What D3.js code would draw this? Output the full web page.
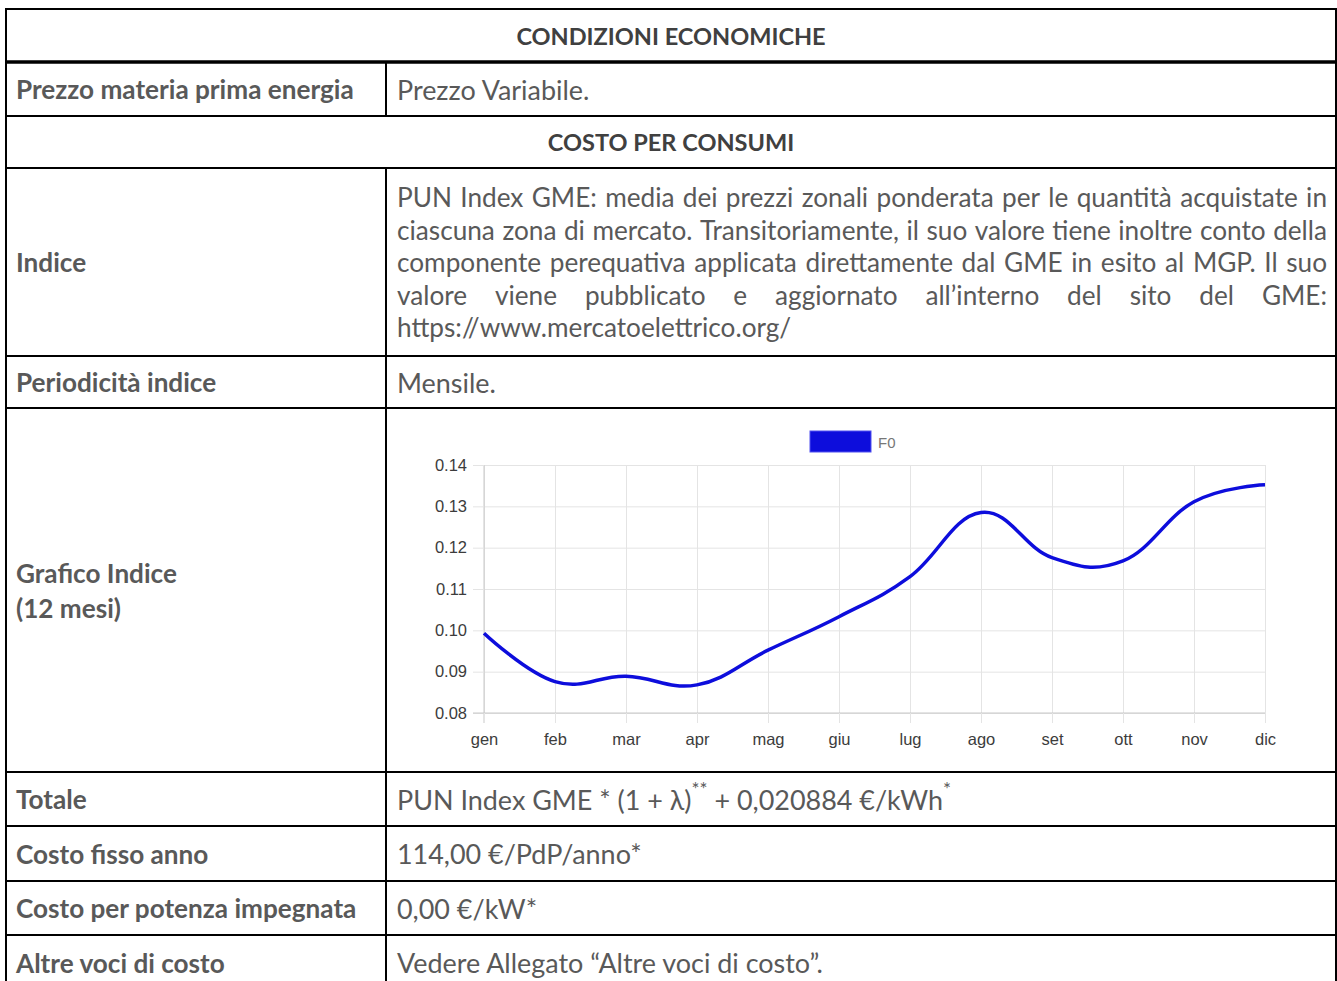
<!DOCTYPE html>
<html lang="it">
<head>
<meta charset="utf-8">
<title>Condizioni economiche</title>
<script src="https://d3js.org/d3.v7.min.js"></script>
<style>
body { margin: 0; background: #fff; }
svg { display: block; }
</style>
</head>
<body>
<div id="plot"></div>
<script>
var width = 1337, height = 981;

// --- data ---
var months = ["gen", "feb", "mar", "apr", "mag", "giu", "lug", "ago", "set", "ott", "nov", "dic"];
var f0 = [0.0993, 0.0876, 0.0889, 0.0868, 0.0952, 0.1033, 0.1130, 0.1285, 0.1176, 0.1168, 0.1311, 0.1352];
var yTicks = [0.08, 0.09, 0.10, 0.11, 0.12, 0.13, 0.14];
var seriesName = "F0";

var titleMain = "CONDIZIONI ECONOMICHE";
var titleSub = "COSTO PER CONSUMI";
var labels = ["Prezzo materia prima energia", "Indice", "Periodicità indice", "Grafico Indice|(12 mesi)",
              "Totale", "Costo fisso anno", "Costo per potenza impegnata", "Altre voci di costo"];
var values = ["Prezzo Variabile.", null, "Mensile.", null, null,
              "114,00 €/PdP/anno*", "0,00 €/kW*", "Vedere Allegato “Altre voci di costo”."];
var indiceText = [
  "PUN Index GME: media dei prezzi zonali ponderata per le quantità acquistate in",
  "ciascuna zona di mercato. Transitoriamente, il suo valore tiene inoltre conto della",
  "componente perequativa applicata direttamente dal GME in esito al MGP. Il suo",
  "valore viene pubblicato e aggiornato all’interno del sito del GME:",
  "https://www.mercatoelettrico.org/"
];
var totaleParts = [["PUN Index GME * (1 + λ)", false], ["**", true], [" + 0,020884 €/kWh", false], ["*", true]];

// --- layout ---
var FONT = "Lato, 'Open Sans', sans-serif";
var TXT = "#595959";
var xL = 6, xR = 1336, xDiv = 386;
// row edges: title, prezzo, subtitle, indice, periodicità, grafico, totale, fisso, potenza, altre
var edges = [9, 62, 116, 168, 356, 408, 772, 826, 881, 935, 990];

var svg = d3.select("#plot").append("svg")
  .attr("width", width).attr("height", height)
  .style("font-family", FONT);

function measure(str, weight, size) {
  var t = svg.append("text").attr("font-weight", weight).attr("font-size", size).text(str);
  var w = t.node().getComputedTextLength();
  t.remove();
  return w;
}
// pick font sizes so the installed font takes the same room as the original one
var boldSize = 20 * 338 / measure(labels[0], "bold", 20);
var regSize = 20 * 426 / measure(values[7], "normal", 20);
var paraSize = Math.min(regSize, 20 * 920 / measure(indiceText[1], "normal", 20));

function mid(i) { return (edges[i] + edges[i + 1]) / 2; }

// titles
[[0, titleMain], [2, titleSub]].forEach(function(p) {
  svg.append("text")
    .attr("x", (xL + xR) / 2).attr("y", mid(p[0]))
    .attr("text-anchor", "middle").attr("dominant-baseline", "central")
    .attr("font-weight", "bold").attr("font-size", boldSize * 0.9)
    .attr("fill", "#404040").text(p[1]);
});

// label / value rows
var rowIdx = [1, 3, 4, 5, 6, 7, 8, 9];
labels.forEach(function(lab, k) {
  var i = rowIdx[k];
  var parts = lab.split("|");
  parts.forEach(function(s, j) {
    svg.append("text")
      .attr("x", 16).attr("y", mid(i) + (j - (parts.length - 1) / 2) * 35)
      .attr("dominant-baseline", "central")
      .attr("font-weight", "bold").attr("font-size", boldSize)
      .attr("fill", TXT).text(s);
  });
  if (values[k]) {
    svg.append("text")
      .attr("x", 397).attr("y", mid(i))
      .attr("dominant-baseline", "central")
      .attr("font-size", regSize).attr("fill", TXT).text(values[k]);
  }
});

// justified paragraph for "Indice"
var pLeft = 397, pRight = 1327, lineH = 32.5;
indiceText.forEach(function(line, i) {
  var yy = mid(3) + (i - (indiceText.length - 1) / 2) * lineH;
  if (i === indiceText.length - 1) {
    svg.append("text").attr("x", pLeft).attr("y", yy).attr("dominant-baseline", "central")
      .attr("font-size", paraSize).attr("fill", TXT).text(line);
    return;
  }
  var words = line.split(" ");
  var ws = words.map(function(w) { return measure(w, "normal", paraSize); });
  var gap = (pRight - pLeft - d3.sum(ws)) / (words.length - 1);
  var x = pLeft;
  words.forEach(function(w, j) {
    svg.append("text").attr("x", x).attr("y", yy).attr("dominant-baseline", "central")
      .attr("font-size", paraSize).attr("fill", TXT).text(w);
    x += ws[j] + gap;
  });
});

// Totale formula with superscripts
var tot = svg.append("text").attr("x", 397).attr("y", mid(6)).attr("dominant-baseline", "central")
  .attr("font-size", regSize).attr("fill", TXT).attr("xml:space", "preserve");
totaleParts.forEach(function(p) {
  tot.append("tspan")
    .attr("font-size", p[1] ? regSize * 0.7 : regSize)
    .attr("baseline-shift", p[1] ? "55%" : "0%")
    .text(p[0]);
});

// table borders
var gLines = svg.append("g").attr("stroke", "#000");
edges.forEach(function(y, i) {
  if (i === edges.length - 1) return;
  gLines.append("line").attr("x1", xL - 1).attr("x2", xR + 1).attr("y1", y).attr("y2", y)
    .attr("stroke-width", i === 1 ? 3.5 : 2);
});
gLines.append("line").attr("x1", xL).attr("x2", xL).attr("y1", edges[0] - 1).attr("y2", height).attr("stroke-width", 2);
gLines.append("line").attr("x1", xR).attr("x2", xR).attr("y1", edges[0] - 1).attr("y2", height).attr("stroke-width", 2);
gLines.append("line").attr("x1", xDiv).attr("x2", xDiv).attr("y1", edges[1]).attr("y2", edges[2]).attr("stroke-width", 2);
gLines.append("line").attr("x1", xDiv).attr("x2", xDiv).attr("y1", edges[3]).attr("y2", height).attr("stroke-width", 2);

// --- chart ---
var cx0 = 484, cx1 = 1265, cy0 = 465, cy1 = 713;
var x = d3.scalePoint().domain(months).range([cx0, cx1]);
var y = d3.scaleLinear().domain([0.08, 0.14]).range([cy1, cy0]);

var chart = svg.append("g").style("font-family", "'Liberation Sans', Arial, sans-serif");

// grid
chart.append("g").attr("transform", "translate(" + cx0 + ",0)")
  .call(d3.axisLeft(y).tickValues(yTicks).tickSize(-(cx1 - cx0)).tickFormat(""))
  .call(function(g) { g.select(".domain").remove(); g.selectAll("line").attr("stroke", "#e4e4e4"); });
chart.append("g").attr("transform", "translate(0," + cy0 + ")")
  .call(d3.axisBottom(x).tickSize(cy1 - cy0 + 10).tickFormat(""))
  .call(function(g) { g.select(".domain").remove(); g.selectAll("line").attr("stroke", "#e4e4e4"); });

// axes
chart.append("g").attr("transform", "translate(" + cx0 + ",0)")
  .call(d3.axisLeft(y).tickValues(yTicks).tickSize(11).tickPadding(6).tickFormat(d3.format(".2f")).tickSizeOuter(0))
  .call(function(g) {
    g.select(".domain").attr("stroke", "#c8c8c8").attr("d", "M0," + (cy0) + "V" + (cy1 + 10));
    g.selectAll("line").attr("stroke", "#e4e4e4");
    g.selectAll("text").attr("font-size", 16.5).attr("fill", "#3c3c3c").attr("font-family", null);
  });
chart.append("g").attr("transform", "translate(0," + cy1 + ")")
  .call(d3.axisBottom(x).tickSize(10).tickPadding(10).tickSizeOuter(0))
  .call(function(g) {
    g.select(".domain").attr("stroke", "#c8c8c8").attr("d", "M" + (cx0 - 11) + ",0H" + cx1);
    g.selectAll("line").attr("stroke", "#e4e4e4");
    g.selectAll("text").attr("font-size", 16.5).attr("fill", "#3c3c3c").attr("font-family", null);
  });

// series line
var line = d3.line()
  .x(function(d, i) { return x(months[i]); })
  .y(function(d) { return y(d); })
  .curve(d3.curveCardinal.tension(-0.2));
chart.append("path").datum(f0)
  .attr("d", line)
  .attr("fill", "none")
  .attr("stroke", "#0d0ddc")
  .attr("stroke-width", 3.5)
  .attr("stroke-linejoin", "round");

// legend
var lgX = 810, lgY = 431;
chart.append("rect").attr("x", lgX).attr("y", lgY).attr("width", 61).attr("height", 21)
  .attr("fill", "#0d0ddc").attr("stroke", "#5050f0").attr("stroke-width", 1);
chart.append("text").attr("x", lgX + 68).attr("y", lgY + 11).attr("dominant-baseline", "central")
  .attr("font-size", 15).attr("fill", "#777").text(seriesName);
</script>
</body>
</html>
